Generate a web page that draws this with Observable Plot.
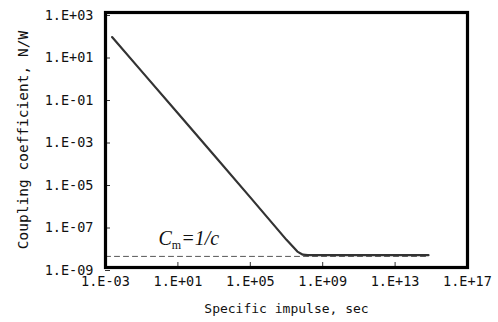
<!DOCTYPE html>
<html><head><meta charset="utf-8">
<script src="https://cdn.jsdelivr.net/npm/d3@7"></script>
<script src="https://cdn.jsdelivr.net/npm/@observablehq/plot@0.6"></script>
<style>
body{margin:0;background:#fff;}
#chart svg{display:block;}
</style>
</head><body><div id="chart"></div>
<script>
// Specific impulse (sec) and coupling coefficient (N/W)
const isp = [2.3e-3, 1e-1, 1e1, 1e3, 1e5, 1e7, 4e7, 8e7, 1.5e8, 1e9, 1e11, 1e13, 7e14];
const cm  = [70, 1.7, 1.8e-2, 1.9e-4, 2.0e-6, 2.0e-8, 5.6e-9, 4.0e-9, 3.8e-9, 3.8e-9, 3.8e-9, 3.8e-9, 3.8e-9];
// Cm = 1/c reference line
const refX = [1e-3, 7e14];
const refY = [3.33e-9, 3.33e-9];
// Axis ticks and titles
const xTicks = [1e-3, 1e1, 1e5, 1e9, 1e13, 1e17];
const xTickLabels = ["1.E-03", "1.E+01", "1.E+05", "1.E+09", "1.E+13", "1.E+17"];
const yTicks = [1e3, 1e1, 1e-1, 1e-3, 1e-5, 1e-7, 1e-9];
const yTickLabels = ["1.E+03", "1.E+01", "1.E-01", "1.E-03", "1.E-05", "1.E-07", "1.E-09"];
const xTitle = "Specific impulse, sec";
const yTitle = "Coupling coefficient, N/W";
const annot = [{x: 4e1, y: 2.4e-8, t: "Cm=1/c"}];

const line = isp.map((x, i) => ({x, y: cm[i]}));
const ref = refX.map((x, i) => ({x, y: refY[i]}));
const fmt = (ticks, labels) => d => labels[ticks.findIndex(t => Math.abs(Math.log10(t) - Math.log10(d)) < 1e-6)];

const plot = Plot.plot({
  width: 498, height: 322,
  marginLeft: 105, marginTop: 12, marginRight: 31, marginBottom: 55,
  style: {fontFamily: "'DejaVu Sans Mono', monospace", background: "#fff", color: "#111"},
  x: {type: "log", domain: [1e-3, 1e17], ticks: xTicks, tickFormat: fmt(xTicks, xTickLabels), label: null},
  y: {type: "log", domain: [1e-9, 1e3], ticks: yTicks, tickFormat: fmt(yTicks, yTickLabels), label: null},
  marks: [
    Plot.axisX({ticks: xTicks, tickFormat: fmt(xTicks, xTickLabels), tickSize: -5, tickPadding: 14, stroke: "#333", fontSize: 13.5}),
    Plot.axisY({ticks: yTicks, tickFormat: fmt(yTicks, yTickLabels), tickSize: -5, tickPadding: 17, dy: 3, stroke: "#333", fontSize: 13.5}),
    Plot.axisX({ticks: [], label: xTitle, labelAnchor: "center", labelArrow: "none", labelOffset: 45, fontSize: 13}),
    Plot.axisY({ticks: [], label: yTitle, labelAnchor: "center", labelArrow: "none", labelOffset: 88, fontSize: 14.5}),
    Plot.line(ref, {x: "x", y: "y", stroke: "#555", strokeWidth: 1, strokeDasharray: "5,4"}),
    Plot.line(line, {x: "x", y: "y", stroke: "#333", strokeWidth: 2.2}),
    Plot.text(annot, {x: "x", y: "y", text: "t", fontSize: 20, fontStyle: "italic", fontFamily: "'Liberation Serif', serif", className: "annot"}),
    Plot.frame({stroke: "#000", strokeWidth: 3.2})
  ]
});
document.getElementById("chart").appendChild(plot);
// subscript "m" in the annotation
plot.querySelectorAll(".annot text").forEach(t => {
  const s = t.textContent;
  if (s.startsWith("Cm")) {
    t.textContent = "";
    const ns = "http://www.w3.org/2000/svg";
    const a = document.createElementNS(ns, "tspan"); a.textContent = "C";
    const b = document.createElementNS(ns, "tspan"); b.textContent = "m"; b.setAttribute("dy", "4"); b.setAttribute("font-size", "12"); b.setAttribute("font-style", "normal");
    const c = document.createElementNS(ns, "tspan"); c.textContent = s.slice(2); c.setAttribute("dy", "-4");
    t.append(a, b, c);
  }
});
</script></body></html>
